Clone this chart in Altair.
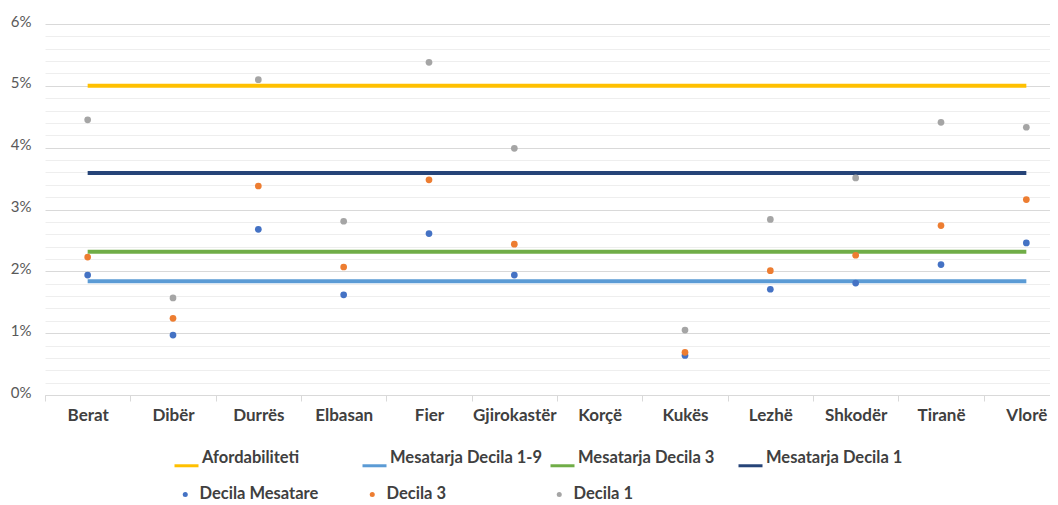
import altair as alt
import pandas as pd

categories = ["Berat", "Dibër", "Durrës", "Elbasan", "Fier", "Gjirokastër",
              "Korçë", "Kukës", "Lezhë", "Shkodër", "Tiranë", "Vlorë"]

# point series (percent)
decila_mesatare = [1.94, 0.97, 2.68, 1.62, 2.61, 1.94, None, 0.64, 1.71, 1.81, 2.11, 2.46]
decila_3 = [2.23, 1.24, 3.38, 2.07, 3.48, 2.44, None, 0.69, 2.01, 2.26, 2.74, 3.16]
decila_1 = [4.45, 1.57, 5.10, 2.81, 5.38, 3.99, None, 1.05, 2.84, 3.51, 4.41, 4.33]

# reference lines (percent)
line_names = ["Afordabiliteti", "Mesatarja Decila 1-9", "Mesatarja Decila 3", "Mesatarja Decila 1"]
line_values = [5.0, 1.84, 2.315, 3.59]
line_colors = ["#FFC000", "#5B9BD5", "#70AD47", "#264478"]

point_names = ["Decila Mesatare", "Decila 3", "Decila 1"]
point_series = [decila_mesatare, decila_3, decila_1]
point_colors = ["#4472C4", "#ED7D31", "#A5A5A5"]

y_ticks = [round(i * 0.2, 1) for i in range(31)]

line_rows = []
for name, v in zip(line_names, line_values):
    for c in (categories[0], categories[-1]):
        line_rows.append({"category": c, "value": v, "series": name})
line_df = pd.DataFrame(line_rows)

point_rows = []
for name, vals in zip(point_names, point_series):
    for c, v in zip(categories, vals):
        if v is not None:
            point_rows.append({"category": c, "value": v, "series": name})
point_df = pd.DataFrame(point_rows)

FONT = "Lato"
LEG_COMMON = dict(title=None, orient="none", gridAlign="all", padding=0,
                  labelFont=FONT, labelFontSize=16.5, labelFontWeight="bold",
                  labelColor="#404040", labelLimit=400)

line_legend = alt.Legend(
    legendX=128, legendY=420, columns=4, columnPadding=1,
    symbolType="M-1,0.67H1", symbolSize=576, symbolStrokeWidth=3,
    labelOffset=2, **LEG_COMMON)

point_legend = alt.Legend(
    legendX=132, legendY=462, columns=3, columnPadding=45,
    symbolType="circle", symbolSize=25, symbolOpacity=1,
    labelOffset=6, **LEG_COMMON)

x = alt.X("category:N", sort=categories,
          scale=alt.Scale(domain=categories, range=[0, 1024], paddingInner=0, paddingOuter=0),
          axis=alt.Axis(title=None, labelAngle=0, tickBand="extent", grid=False,
                        domainColor="#d9d9d9", tickColor="#d9d9d9", tickSize=6,
                        labelPadding=6, labelFont=FONT, labelFontSize=17,
                        labelFontWeight="bold", labelColor="#404040"))

y = alt.Y("value:Q",
          scale=alt.Scale(domain=[0, 6], nice=False, zero=True),
          axis=alt.Axis(title=None, values=y_ticks, domain=False, ticks=False, tickSize=0,
                        labelPadding=14, labelOffset=-3,
                        labelExpr="abs(datum.value - round(datum.value)) < 0.001 ? datum.value + '%' : ''",
                        labelFont=FONT, labelFontSize=15, labelColor="#595959",
                        gridColor={"condition": {"test": "abs(datum.value - round(datum.value)) < 0.001",
                                                 "value": "#d9d9d9"},
                                   "value": "#eeeeee"},
                        gridWidth=1))

lines = alt.Chart(line_df).mark_line(strokeWidth=4).encode(
    x=x, y=y,
    color=alt.Color("series:N", scale=alt.Scale(domain=line_names, range=line_colors),
                    legend=line_legend),
    detail="series:N")

points = alt.Chart(point_df).mark_circle(size=45, opacity=1).encode(
    x=x, y=y,
    color=alt.Color("series:N", scale=alt.Scale(domain=point_names, range=point_colors),
                    legend=point_legend))

chart = alt.layer(lines, points).resolve_scale(color="independent").properties(
    width=1005,
    height=371,
    autosize=alt.AutoSizeParams(type="none"),
    padding={"left": 37, "top": 16, "right": 0, "bottom": 110},
).configure_view(stroke=None)

chart.save("out.html", embed_options={"renderer": "svg", "actions": False})
